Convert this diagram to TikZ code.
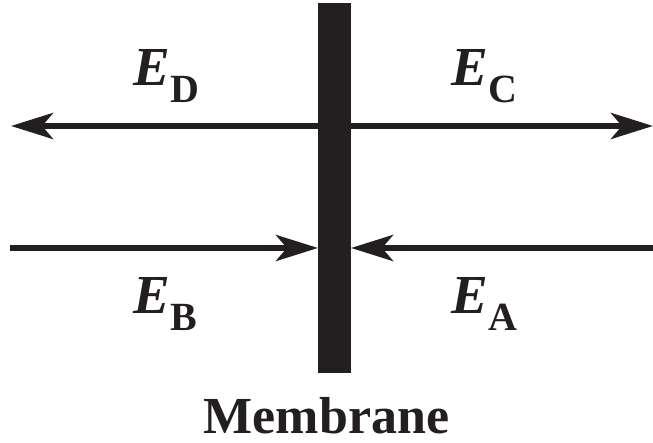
\documentclass[tikz,border=0pt]{standalone}
\usepackage{fontspec}
\setmainfont{Liberation Serif}
\usetikzlibrary{arrows.meta}
\definecolor{ink}{HTML}{231F20}
\newcommand{\Elab}[1]{{\fontsize{55}{55}\selectfont\bfseries\itshape E}\kern1pt\raisebox{-17pt}{\fontsize{40}{40}\selectfont\bfseries #1}}
\begin{document}
\begin{tikzpicture}[x=1pt,y=1pt,
  flow/.style={draw=ink,line width=6pt,-{Stealth[length=42pt,width=26pt,inset=11pt]}},
  flowboth/.style={draw=ink,line width=6pt,{Stealth[length=42pt,width=26pt,inset=11pt]}-{Stealth[length=42pt,width=26pt,inset=11pt]}},
  lab/.style={anchor=base west,inner sep=0pt,text=ink}]
\useasboundingbox (0,0) rectangle (653,443);
\fill[ink] (318,70) rectangle (351,440);
\coordinate (tl) at (11,317);
\coordinate (tr) at (653,317);
\coordinate (bl) at (10,195);
\coordinate (bml) at (318,195);
\coordinate (br) at (653,195);
\coordinate (bmr) at (351,195);
\draw[flowboth] (tl) -- (tr);
\draw[flow] (bl) -- (bml);
\draw[flow] (br) -- (bmr);
\node[lab] (ed) at (133,357) {\Elab{D}};
\node[lab] (ec) at (451,357) {\Elab{C}};
\node[lab] (eb) at (133,129) {\Elab{B}};
\node[lab] (ea) at (451,129) {\Elab{A}};
\node[anchor=base,inner sep=0pt,text depth=0pt,text=ink] (mem) at (326.5,9) {\fontsize{52}{52}\selectfont\bfseries Membrane};
\end{tikzpicture}
\end{document}
